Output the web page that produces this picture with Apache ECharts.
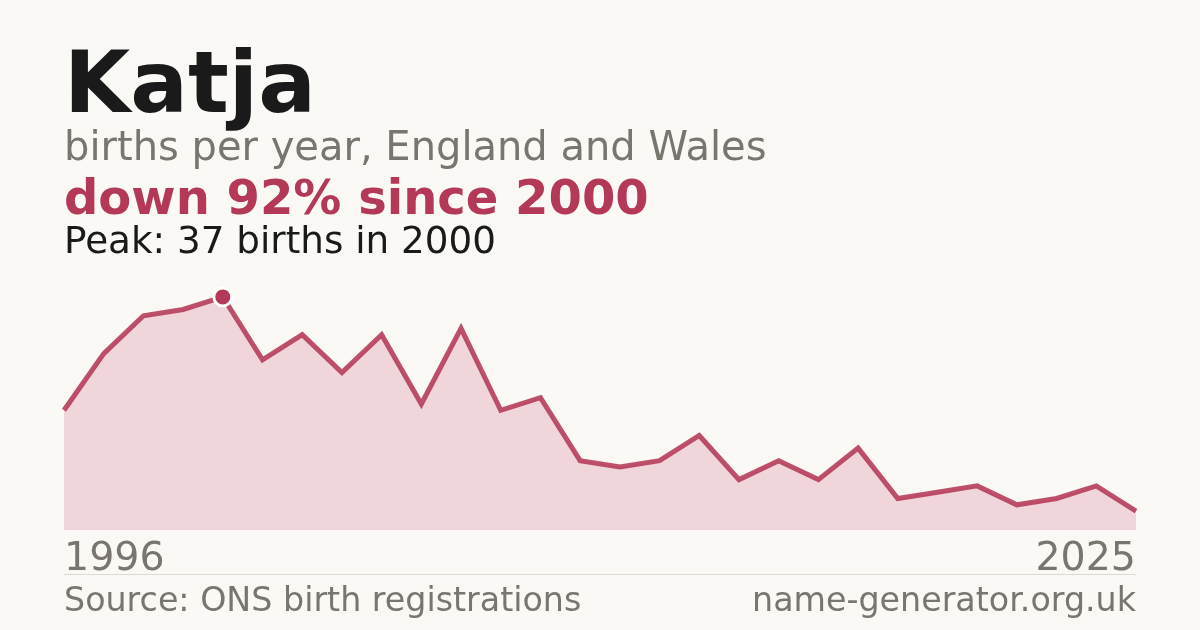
<!DOCTYPE html>
<html>
<head>
<meta charset="utf-8">
<script src="https://cdn.jsdelivr.net/npm/echarts@6/dist/echarts.min.js"></script>
<style>
html,body{margin:0;padding:0;background:#faf9f5;}
#chart{width:1200px;height:630px;}
</style>
</head>
<body>
<div id="chart"></div>
<script>
// Data
var years = ['1996','1997','1998','1999','2000','2001','2002','2003','2004','2005','2006','2007','2008','2009','2010','2011','2012','2013','2014','2015','2016','2017','2018','2019','2020','2021','2022','2023'];
var births = [19,28,34,35,37,27,31,25,31,20,32,19,21,11,10,11,15,8,11,8,13,5,6,7,4,5,7,3];
var tickLabels = ['1996','2025'];
var peakIndex = 4;

var FONT = 'DejaVu Sans';
var RED = '#b43858';
var GRAY = '#7a766f';

var chart = echarts.init(document.getElementById('chart'));
chart.setOption({
  backgroundColor: '#faf9f5',
  animation: false,
  grid: {left: 64, right: 64, top: 278, bottom: 100},
  xAxis: {
    type: 'category',
    data: years,
    boundaryGap: false,
    axisLine: {show: false},
    axisTick: {show: false},
    splitLine: {show: false},
    axisLabel: {
      interval: 0,
      margin: 10,
      fontFamily: FONT,
      fontSize: 39.5,
      color: GRAY,
      alignMinLabel: 'left',
      alignMaxLabel: 'right',
      formatter: function (v, i) {
        if (i === 0) return tickLabels[0];
        if (i === years.length - 1) return tickLabels[1];
        return '';
      }
    }
  },
  yAxis: {
    type: 'value',
    min: 0,
    max: 40,
    show: false,
    splitLine: {show: false}
  },
  series: [{
    type: 'line',
    data: births.map(function (v, i) {
      return i === peakIndex ? {value: v, symbol: 'circle', symbolSize: 18,
        itemStyle: {color: RED, borderColor: '#ffffff', borderWidth: 3}} : {value: v, symbol: 'none'};
    }),
    showSymbol: true,
    lineStyle: {color: RED, width: 5, opacity: 0.88, join: 'miter'},
    areaStyle: {color: '#f0d5da', opacity: 1},
    z: 2
  }],
  graphic: [
    {type: 'text', left: 64, top: 47, style: {text: 'Katja', font: 'bold 85.5px "DejaVu Sans"', fill: '#1a1a1a'}},
    {type: 'text', left: 64, top: 130, style: {text: 'births per year, England and Wales', font: '40px "DejaVu Sans"', fill: GRAY}},
    {type: 'text', left: 64, top: 178, style: {text: 'down 92% since 2000', font: 'bold 48px "DejaVu Sans"', fill: RED}},
    {type: 'text', left: 64, top: 225, style: {text: 'Peak: 37 births in 2000', font: '37.3px "DejaVu Sans"', fill: '#1a1a1a'}},
    {type: 'line', shape: {x1: 64, y1: 574.5, x2: 1136, y2: 574.5}, style: {stroke: '#dddbd5', lineWidth: 1}},
    {type: 'text', left: 64, top: 586, style: {text: 'Source: ONS birth registrations', font: '33.3px "DejaVu Sans"', fill: GRAY}},
    {type: 'text', right: 64, top: 586, style: {text: 'name-generator.org.uk', font: '33.3px "DejaVu Sans"', fill: GRAY, textAlign: 'right'}}
  ]
});
</script>
</body>
</html>
